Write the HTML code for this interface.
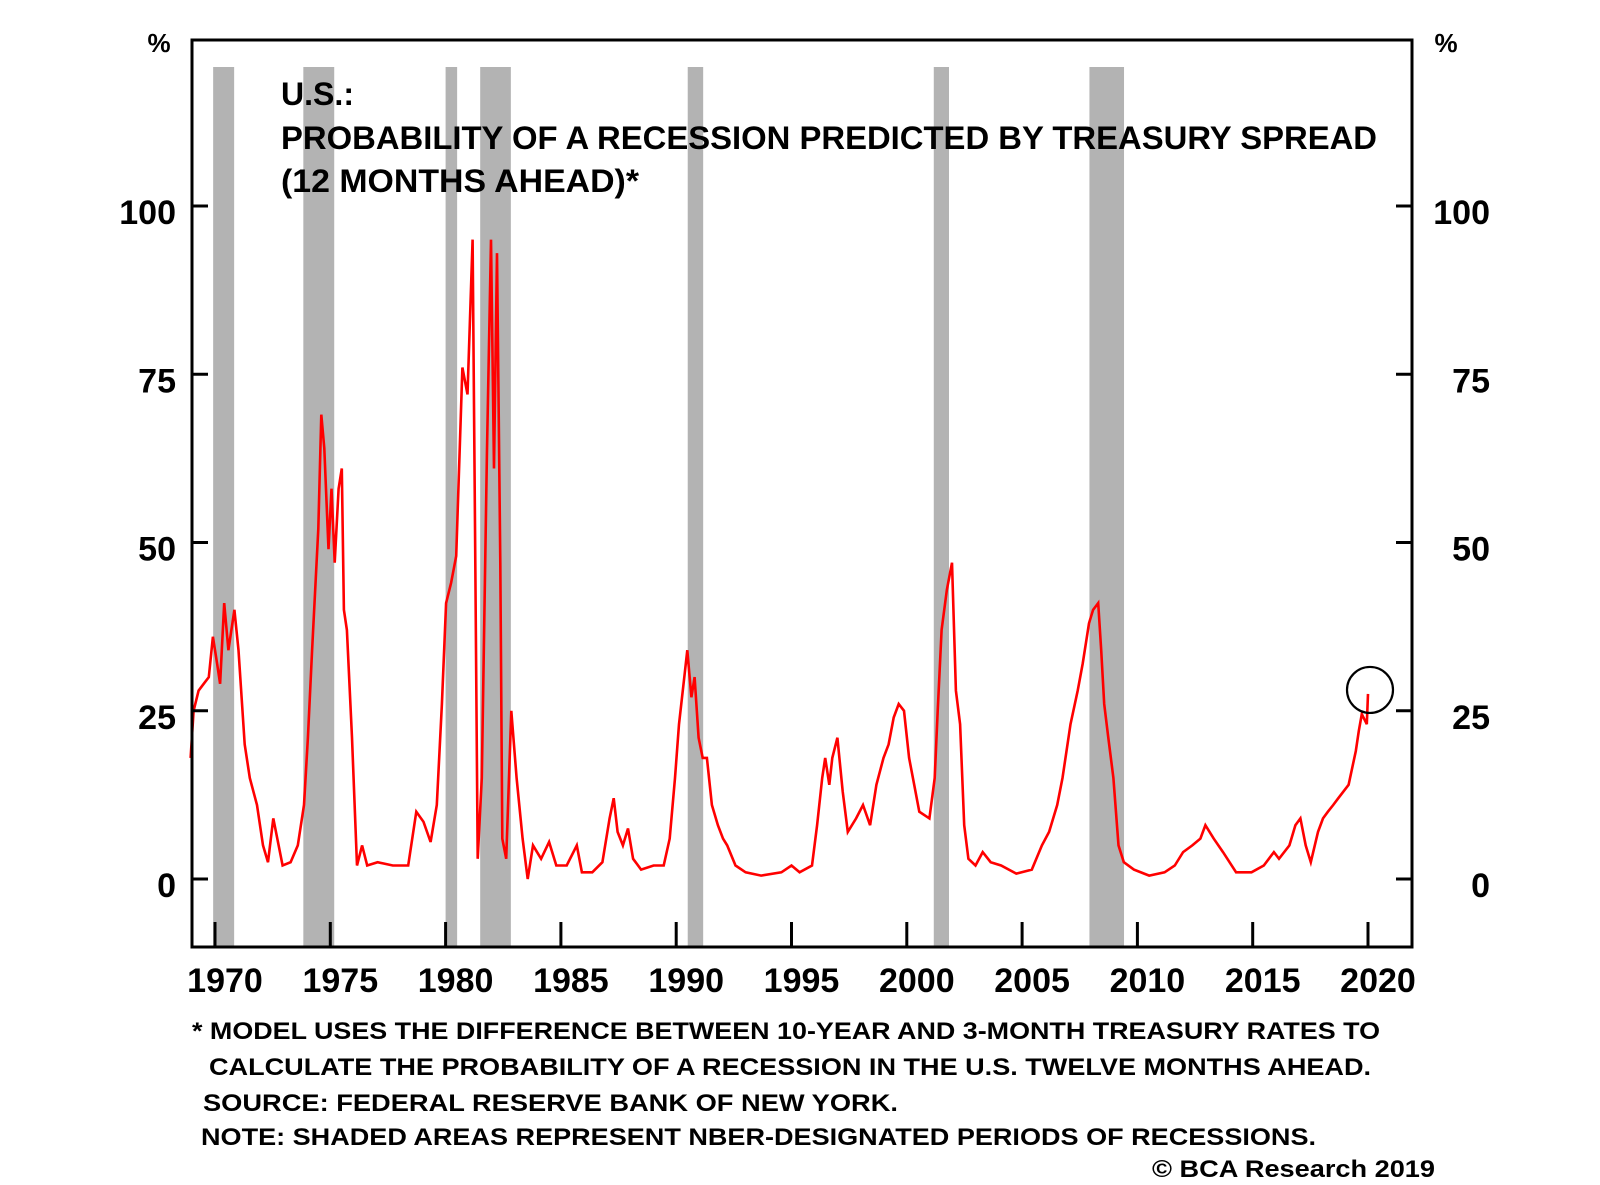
<!DOCTYPE html>
<html><head><meta charset="utf-8"><style>
html,body{margin:0;padding:0;background:#fff;}
svg{display:block;font-family:"Liberation Sans",Arial,sans-serif;}
</style></head><body>
<svg id="chart" width="1600" height="1185" viewBox="0 0 1600 1185" xmlns="http://www.w3.org/2000/svg">
<g id="bands"></g>
<g id="series"></g>
<g id="axes"></g>
<g font-weight="bold" font-size="32" fill="#000">
<text x="281" y="105" textLength="73" lengthAdjust="spacingAndGlyphs">U.S.:</text>
<text x="281" y="149" textLength="1096" lengthAdjust="spacingAndGlyphs">PROBABILITY OF A RECESSION PREDICTED BY TREASURY SPREAD</text>
<text x="281" y="192" textLength="358" lengthAdjust="spacingAndGlyphs">(12 MONTHS AHEAD)*</text>
</g>
<g font-weight="bold" font-size="24" fill="#000">
<text x="192" y="1039" textLength="1188" lengthAdjust="spacingAndGlyphs">* MODEL USES THE DIFFERENCE BETWEEN 10-YEAR AND 3-MONTH TREASURY RATES TO</text>
<text x="209" y="1075" textLength="1162" lengthAdjust="spacingAndGlyphs">CALCULATE THE PROBABILITY OF A RECESSION IN THE U.S. TWELVE MONTHS AHEAD.</text>
<text x="203" y="1111" textLength="695" lengthAdjust="spacingAndGlyphs">SOURCE: FEDERAL RESERVE BANK OF NEW YORK.</text>
<text x="201" y="1145" textLength="1115" lengthAdjust="spacingAndGlyphs">NOTE: SHADED AREAS REPRESENT NBER-DESIGNATED PERIODS OF RECESSIONS.</text>
<text x="1152" y="1177" textLength="283" lengthAdjust="spacingAndGlyphs">© BCA Research 2019</text>
</g>
</svg>
<script>
const years = [1968.94,1969.07,1969.29,1969.51,1969.73,1969.91,1970.09,1970.22,1970.40,1970.58,1970.84,1971.02,1971.29,1971.51,1971.82,1972.08,1972.30,1972.53,1972.70,1972.93,1973.28,1973.59,1973.86,1974.03,1974.21,1974.48,1974.61,1974.74,1974.92,1975.05,1975.19,1975.36,1975.50,1975.59,1975.72,1975.94,1976.16,1976.38,1976.60,1977.05,1977.71,1978.38,1978.73,1979.04,1979.35,1979.62,1979.84,1980.02,1980.24,1980.46,1980.73,1980.95,1981.17,1981.26,1981.39,1981.57,1981.79,1981.97,1982.10,1982.23,1982.37,1982.46,1982.63,1982.85,1983.08,1983.34,1983.56,1983.79,1984.14,1984.49,1984.80,1985.25,1985.69,1985.91,1986.36,1986.80,1987.11,1987.29,1987.46,1987.69,1987.91,1988.13,1988.48,1989.02,1989.46,1989.72,1989.95,1990.12,1990.35,1990.48,1990.66,1990.80,1990.97,1991.15,1991.33,1991.55,1991.81,1992.03,1992.21,1992.57,1993.01,1993.68,1994.56,1995.00,1995.35,1995.89,1996.11,1996.33,1996.46,1996.64,1996.77,1996.99,1997.22,1997.44,1997.80,1998.10,1998.41,1998.68,1998.99,1999.21,1999.43,1999.65,1999.88,2000.10,2000.32,2000.54,2000.98,2001.21,2001.34,2001.51,2001.74,2001.96,2002.13,2002.31,2002.49,2002.67,2002.98,2003.29,2003.64,2004.09,2004.75,2005.42,2005.86,2006.17,2006.52,2006.75,2007.10,2007.41,2007.63,2007.90,2008.08,2008.30,2008.43,2008.56,2008.74,2008.96,2009.18,2009.41,2009.85,2010.51,2011.18,2011.62,2011.98,2012.38,2012.73,2012.95,2013.31,2013.71,2014.28,2014.95,2015.48,2015.92,2016.14,2016.59,2016.85,2017.07,2017.30,2017.52,2017.83,2018.05,2018.26,2018.49,2018.71,2019.16,2019.47,2019.60,2019.73,2019.95,2020.00];
const probs = [18,25,28,29,30,36,32,29,41,34,40,34,20,15,11,5,2.5,9,6,2,2.5,5,11,21,34,52,69,64,49,58,47,58,61,40,37,21,2,5,2,2.5,2,2,10,8.5,5.5,11,26,41,44,48,76,72,95,58,3,15,63,95,61,93,47,6,3,25,15,6,0,5,3,5.5,2,2,5,1,1,2.5,9,12,7,5,7.5,3,1.4,2,2,6,15,23,30,34,27,30,21,18,18,11,8,6,5,2,1,0.5,1,2,1,2,8,15,18,14,18,21,13,7,9,11,8,14,18,20,24,26,25,18,14,10,9,15,25,37,43,47,28,23,8,3,2,4,2.5,2,0.8,1.4,5,7,11,15,23,28,32,38,40,41,34,26,21,15,5,2.5,1.4,0.5,1,2,4,5,6,8,6,4,1,1,2,4,3,5,8,9,5,2.5,7,9,10,11,12,14,19,22,24.5,23,27.5];
const recStart = [1969.92,1973.83,1980.0,1981.5,1990.5,2001.17,2007.92];
const recEnd = [1970.83,1975.17,1980.5,1982.83,1991.17,2001.83,2009.42];
const yTicks = [0,25,50,75,100];
const yTickLabels = ["0","25","50","75","100"];
const xTicks = [1970,1975,1980,1985,1990,1995,2000,2005,2010,2015,2020];
const xTickLabels = ["1970","1975","1980","1985","1990","1995","2000","2005","2010","2015","2020"];

const NS="http://www.w3.org/2000/svg";
const L=192,R=1412,T=40,B=947;
function xs(yr){return 215+(yr-1970)*(1368-215)/50;}
function ys(v){return 879-v*(879-206)/100;}
function mk(tag,attrs,parent){const e=document.createElementNS(NS,tag);for(const k in attrs)e.setAttribute(k,attrs[k]);parent.appendChild(e);return e;}

const bands=document.getElementById('bands');
for(let i=0;i<recStart.length;i++){
  const r=mk('rect',{x:xs(recStart[i]),y:67,width:xs(recEnd[i])-xs(recStart[i]),height:B-67,fill:'#b3b3b3'},bands);
  
  
}
const series=document.getElementById('series');
let d='';
for(let i=0;i<years.length;i++){d+=(i?'L':'M')+xs(years[i]).toFixed(1)+' '+ys(probs[i]).toFixed(1)+' ';}
const p=mk('path',{d:d,fill:'none',stroke:'#ff0000','stroke-width':2.6,'stroke-linejoin':'miter'},series);


const last=years.length-1;
const c=mk('circle',{cx:xs(years[last])+2,cy:ys(probs[last])-4,r:23,fill:'none',stroke:'#000','stroke-width':2.2},series);



const axes=document.getElementById('axes');
const fr=mk('rect',{x:L,y:T,width:R-L,height:B-T,fill:'none',stroke:'#000','stroke-width':3},axes);


for(let i=0;i<yTicks.length;i++){
  const y=ys(yTicks[i]);
  const t1=mk('line',{x1:L,x2:L+16,y1:y,y2:y,stroke:'#000','stroke-width':3},axes);
  
  
  const t2=mk('line',{x1:R-16,x2:R,y1:y,y2:y,stroke:'#000','stroke-width':3},axes);
  
  
  const a=mk('text',{x:176,y:y+18,'text-anchor':'end','font-size':34,'font-weight':'bold'},axes);
  a.textContent=yTickLabels[i];
  
  
  const b=mk('text',{x:1490,y:y+18,'text-anchor':'end','font-size':34,'font-weight':'bold'},axes);
  b.textContent=yTickLabels[i];
  
  
}
for(let i=0;i<xTicks.length;i++){
  const x=xs(xTicks[i]);
  const t=mk('line',{x1:x,x2:x,y1:B-25,y2:B,stroke:'#000','stroke-width':3},axes);
  
  
  const lb=mk('text',{x:x+10,y:992,'text-anchor':'middle','font-size':34,'font-weight':'bold'},axes);
  lb.textContent=xTickLabels[i];
  
  
}
const pl=mk('text',{x:159,y:52,'text-anchor':'middle','font-size':26,'font-weight':'bold'},axes);
pl.textContent='%';


const pr=mk('text',{x:1446,y:52,'text-anchor':'middle','font-size':26,'font-weight':'bold'},axes);
pr.textContent='%';


</script>
</body></html>
